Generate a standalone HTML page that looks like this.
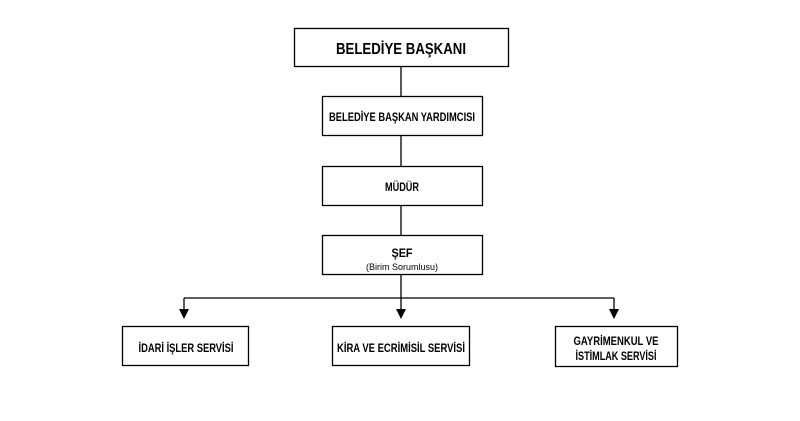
<!DOCTYPE html>
<html><head><meta charset="utf-8"><style>
html,body{margin:0;padding:0;background:#fff;width:800px;height:421px;overflow:hidden}
text{font-family:"Liberation Sans Narrow","Liberation Sans",sans-serif;font-weight:bold;fill:#000}
</style></head><body>
<svg width="800" height="421" viewBox="0 0 800 421" xmlns="http://www.w3.org/2000/svg">
<g fill="#fff" stroke="#000" stroke-width="1.3">
<rect x="294.5" y="28.5" width="214" height="38"/>
<rect x="322.5" y="96.5" width="160" height="39"/>
<rect x="322.5" y="166.5" width="160" height="39"/>
<rect x="322.5" y="235.5" width="160" height="39"/>
<rect x="122.5" y="326.5" width="126" height="39"/>
<rect x="332.5" y="326.5" width="137" height="39"/>
<rect x="555.5" y="326.5" width="122" height="40"/>
</g>
<g stroke="#000" stroke-width="1.3" fill="none">
<line x1="401" y1="67" x2="401" y2="96"/>
<line x1="401" y1="136" x2="401" y2="166"/>
<line x1="401" y1="206" x2="401" y2="235"/>
<line x1="401" y1="275" x2="401" y2="310"/>
<line x1="184" y1="298" x2="614" y2="298"/>
<line x1="184" y1="298" x2="184" y2="310"/>
<line x1="614" y1="298" x2="614" y2="310"/>
</g>
<g fill="#000">
<polygon points="179,309 189,309 184,319"/>
<polygon points="396,309 406,309 401,319"/>
<polygon points="609,309 619,309 614,319"/>
</g>
<g text-anchor="middle">
<text x="401" y="54" font-size="16" textLength="130" lengthAdjust="spacingAndGlyphs">BELEDİYE BAŞKANI</text>
<text x="402" y="121" font-size="11.5" textLength="146" lengthAdjust="spacingAndGlyphs">BELEDİYE BAŞKAN YARDIMCISI</text>
<text x="402" y="191" font-size="11.5" textLength="34" lengthAdjust="spacingAndGlyphs">MÜDÜR</text>
<text x="402" y="257" font-size="11.5" textLength="21" lengthAdjust="spacingAndGlyphs">ŞEF</text>
<text x="402" y="270" font-size="9.5" textLength="72" lengthAdjust="spacingAndGlyphs" style="font-weight:normal">(Birim Sorumlusu)</text>
<text x="186" y="352" font-size="11.5" textLength="95" lengthAdjust="spacingAndGlyphs">İDARİ İŞLER SERVİSİ</text>
<text x="401" y="352" font-size="11.5" textLength="128" lengthAdjust="spacingAndGlyphs">KİRA VE ECRİMİSİL SERVİSİ</text>
<text x="616" y="345" font-size="11.5" textLength="85" lengthAdjust="spacingAndGlyphs">GAYRİMENKUL VE</text>
<text x="616" y="360" font-size="11.5" textLength="81" lengthAdjust="spacingAndGlyphs">İSTİMLAK SERVİSİ</text>
</g>
</svg>
</body></html>
